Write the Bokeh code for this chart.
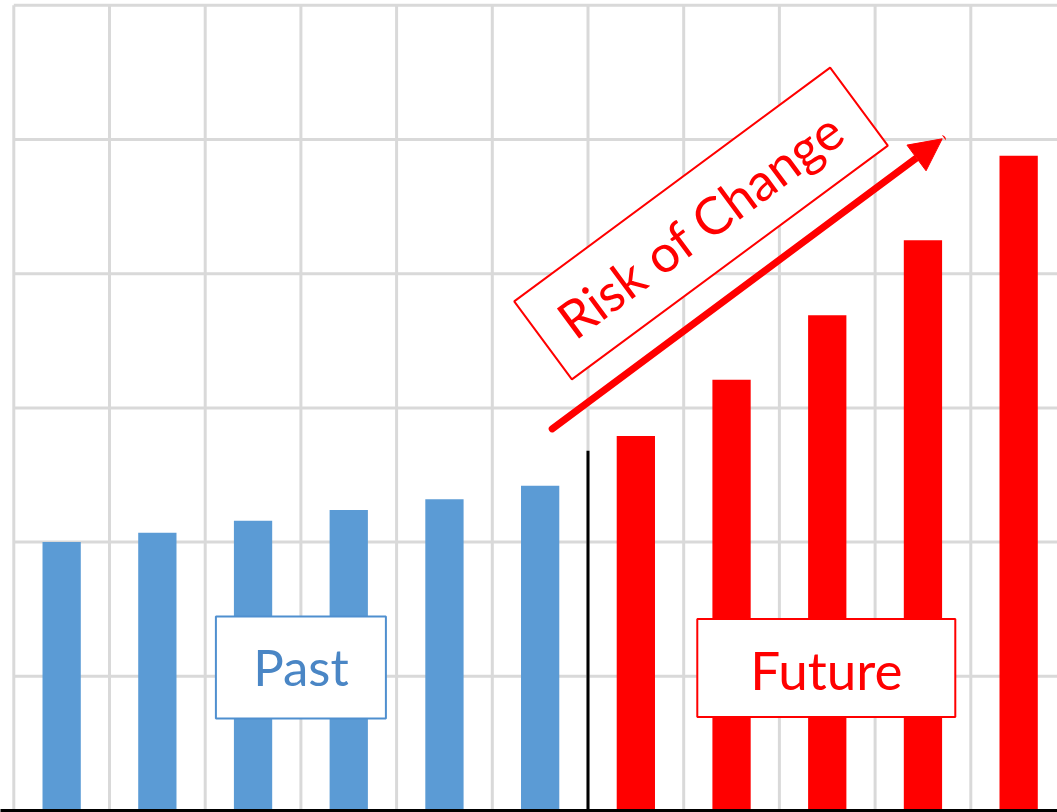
from bokeh.plotting import figure
from bokeh.models import Range1d, Arrow, NormalHead, Label
from bokeh.embed import file_html
from bokeh.resources import INLINE

# Values per period (bars sit in the middle of each grid column)
past_values = [2.0, 2.07, 2.16, 2.24, 2.32, 2.42]
future_values = [2.79, 3.21, 3.69, 4.25, 4.88]

past_x = [i + 0.5 for i in range(len(past_values))]
future_x = [len(past_values) + i + 0.5 for i in range(len(future_values))]

# Grid positions (one column per period, six horizontal bands)
grid_cols = list(range(0, 12))
grid_rows = list(range(1, 7))
y_top = 6

BLUE = "#5B9BD5"
RED = "#FF0000"
GRID = "#D9D9D9"
FONT = "Lato"

p = figure(width=1057, height=812, output_backend="svg", toolbar_location=None,
           x_range=Range1d(-0.139, 10.906), y_range=Range1d(-0.0149, 6.036),
           min_border=0, outline_line_color=None, background_fill_color="white",
           border_fill_color="white")
p.axis.visible = False
p.grid.visible = False

# light grid
p.segment(x0=grid_cols, x1=grid_cols, y0=[0] * len(grid_cols), y1=[y_top] * len(grid_cols),
          line_color=GRID, line_width=3)
p.segment(x0=[0] * len(grid_rows), x1=[12] * len(grid_rows), y0=grid_rows, y1=grid_rows,
          line_color=GRID, line_width=3)

# bars
p.vbar(x=past_x, top=past_values, bottom=0, width=0.4, fill_color=BLUE, line_color=None)
p.vbar(x=future_x, top=future_values, bottom=0, width=0.4, fill_color=RED, line_color=None)

# base line and past/future divider
p.segment(x0=[-0.2], x1=[11.5], y0=[0], y1=[0], line_color="black", line_width=3)
p.segment(x0=[len(past_values)], x1=[len(past_values)], y0=[0], y1=[2.68],
          line_color="black", line_width=3)

# "Past" / "Future" boxes
p.rect(x=[3.0], y=[1.065], width=[170], height=[102], width_units="screen",
       height_units="screen", fill_color="white", line_color="#4F8FCF", line_width=2)
p.rect(x=[8.49], y=[1.062], width=[258], height=[98], width_units="screen",
       height_units="screen", fill_color="white", line_color=RED, line_width=2)

# rotated "Risk of Change" box
angle = 0.637
p.rect(x=[7.181], y=[4.374], width=[393], height=[97], angle=angle,
       width_units="screen", height_units="screen", fill_color="white",
       line_color=RED, line_width=2)

p.add_layout(Label(x=3.0, y=1.075, text="Past", text_font=FONT, text_font_size="51px",
                   text_color="#4A86C5", text_align="center", text_baseline="alphabetic"))
p.add_layout(Label(x=8.49, y=1.05, text="Future", text_font=FONT, text_font_size="53px",
                   text_color=RED, text_align="center", text_baseline="alphabetic"))
p.add_layout(Label(x=7.17, y=4.37, text="Risk of Change", text_font=FONT,
                   text_font_size="52px", text_color=RED, text_align="center",
                   text_baseline="middle", angle=angle))

# rising arrow
p.add_layout(Arrow(end=NormalHead(size=32, fill_color=RED, line_color=RED),
                   x_start=5.626, y_start=2.844, x_end=9.701, y_end=5.005,
                   line_color=RED, line_width=7, line_cap="round"))

open("out.html", "w").write(file_html(p, INLINE))
